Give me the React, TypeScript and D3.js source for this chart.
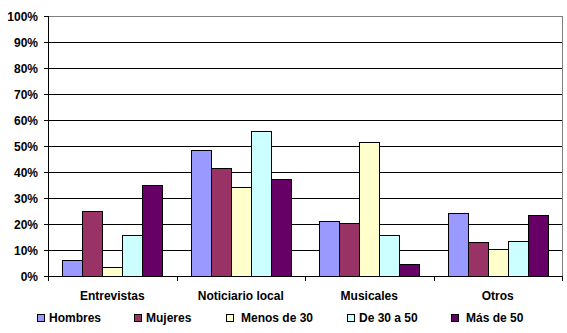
import React from "react";
import * as d3 from "d3";

const categories = ["Entrevistas", "Noticiario local", "Musicales", "Otros"];
const seriesNames = ["Hombres", "Mujeres", "Menos de 30", "De 30 a 50", "Más de 50"];
const hombres = [6.2, 48.3, 21.0, 24.1];
const mujeres = [24.9, 41.4, 20.3, 13.0];
const menos30 = [3.3, 34.4, 51.4, 10.3];
const de30a50 = [15.6, 55.6, 15.6, 13.3];
const mas50 = [35.0, 37.2, 4.6, 23.3];
const yTicks = [0, 10, 20, 30, 40, 50, 60, 70, 80, 90, 100];

const seriesValues = [hombres, mujeres, menos30, de30a50, mas50];
const colors = ["#9999FF", "#993366", "#FFFFCC", "#CCFFFF", "#660066"];
const legendSquareX = [37, 134, 226, 347, 451];
const legendTextX = [49, 146, 241, 359, 466];

const W = 567, H = 333;
const left = 48, right = 562, top = 16, bottom = 276;
const font = "'Liberation Sans', Arial, sans-serif";

export default function App() {
  const x = d3.scaleBand<string>().domain(categories).range([left, right]).paddingInner(0).paddingOuter(0);
  const inner = d3.scaleBand<number>().domain(d3.range(seriesNames.length)).range([0, x.bandwidth()]).paddingOuter(0.71).paddingInner(0);
  const y = d3.scaleLinear().domain([0, 100]).range([bottom, top]);

  return (
    <svg width={W} height={H} style={{ position: "absolute", left: 0, top: 0, background: "#fff" }}>
      {yTicks.filter(t => t > 0 && t < 100).map(t => (
        <line key={t} x1={left} x2={right} y1={Math.round(y(t)) + 0.5} y2={Math.round(y(t)) + 0.5} stroke="#000" strokeWidth={1} />
      ))}
      <line x1={left} x2={right} y1={top + 0.5} y2={top + 0.5} stroke="#808080" />
      <line x1={right + 0.5} x2={right + 0.5} y1={top} y2={bottom} stroke="#808080" />
      {seriesValues.map((vals, si) =>
        vals.map((v, ci) => {
          const x0 = Math.round((x(categories[ci]) as number) + (inner(si) as number));
          const w = Math.round(inner.bandwidth());
          const yt = Math.round(y(v));
          return (
            <rect key={`${si}-${ci}`} x={x0 + 0.5} y={yt + 0.5} width={w} height={bottom - yt}
              fill={colors[si]} stroke="#000" strokeWidth={1} />
          );
        })
      )}
      <line x1={left + 0.5} x2={left + 0.5} y1={top} y2={bottom + 1} stroke="#000" />
      <line x1={left - 4} x2={right + 1} y1={bottom + 0.5} y2={bottom + 0.5} stroke="#000" />
      {yTicks.map(t => (
        <g key={t}>
          <line x1={left - 4} x2={left} y1={Math.round(y(t)) + 0.5} y2={Math.round(y(t)) + 0.5} stroke="#000" />
          <text x={38} y={y(t) + 4.5} textAnchor="end" fontFamily={font} fontWeight="bold" fontSize={12} fill="#000">{t}%</text>
        </g>
      ))}
      {categories.map((c, i) => (
        <line key={"t" + i} x1={Math.round(x(c) as number) + 0.5} x2={Math.round(x(c) as number) + 0.5} y1={bottom} y2={bottom + 5} stroke="#000" />
      ))}
      <line x1={right + 0.5} x2={right + 0.5} y1={bottom} y2={bottom + 5} stroke="#000" />
      {categories.map(c => (
        <text key={c} x={(x(c) as number) + x.bandwidth() / 2} y={300} textAnchor="middle" fontFamily={font} fontWeight="bold" fontSize={12} fill="#000">{c}</text>
      ))}
      {seriesNames.map((s, i) => (
        <g key={s}>
          <rect x={legendSquareX[i] + 0.5} y={314.5} width={7} height={7} fill={colors[i]} stroke="#000" />
          <text x={legendTextX[i]} y={322} fontFamily={font} fontWeight="bold" fontSize={12} fill="#000">{s}</text>
        </g>
      ))}
    </svg>
  );
}
